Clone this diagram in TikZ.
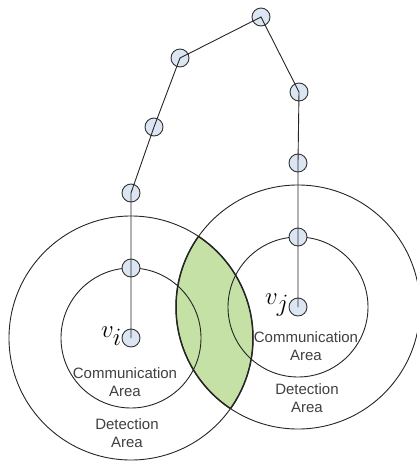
\documentclass[tikz,border=0pt]{standalone}
\usepackage{fontspec}
\setsansfont{Liberation Sans}
\begin{document}
\begin{tikzpicture}[x=1pt,y=-1pt,
  ln/.style={line width=0.9pt,draw=black!85},
  sensor/.style={circle,draw=black!80,line width=0.9pt,fill=lensblue,minimum size=18pt,inner sep=0pt},
  lbl/.style={font=\sffamily\fontsize{15}{17.5}\selectfont,text=black!75,align=center},
  vlbl/.style={font=\fontsize{40}{40}\selectfont,inner sep=0pt}]
\definecolor{lensgreen}{HTML}{C5E1A5}
\definecolor{lensblue}{HTML}{DCE6F2}
\useasboundingbox (0,0) rectangle (417,461);
\coordinate (A) at (131,338);
\coordinate (B) at (298,307);
% green lens
\begin{scope}
  \clip (A) circle (122);
  \fill[lensgreen] (B) circle (122);
\end{scope}
% circles
\draw[ln] (A) circle (122);
\draw[ln] (A) circle (70);
\draw[ln] (B) circle (122);
\draw[ln] (B) circle (70);
% lens border
\begin{scope}
  \clip (A) circle (122);
  \draw[line width=1.5pt,black!85] (B) circle (122);
\end{scope}
\begin{scope}
  \clip (B) circle (122);
  \draw[line width=1.5pt,black!85] (A) circle (122);
\end{scope}
% sensors
\node[sensor] (vi) at (131,338) {};
\node[sensor] (n1) at (131,268) {};
\node[sensor] (n2) at (131,193) {};
\node[sensor] (n3) at (154,127) {};
\node[sensor] (n4) at (180,58) {};
\node[sensor] (n5) at (261,17) {};
\node[sensor] (n6) at (299,92) {};
\node[sensor] (n7) at (298,163) {};
\node[sensor] (n8) at (298,237) {};
\node[sensor] (vj) at (298,307) {};
\draw[ln] (vi.center) -- (n1.center) -- (n2.center) -- (n3.center) -- (n4.center) -- (n5.center) -- (n6.center) -- (n7.center) -- (n8.center) -- (vj.center);
% labels
\node[vlbl,anchor=east] (li) at (122,336) {$v_i$};
\node[vlbl,anchor=east] (lj) at (289,305) {$v_j$};
\node[lbl] (ci) at (125,382) {Communication\\Area};
\node[lbl] (di) at (127,433) {Detection\\Area};
\node[lbl] (cj) at (306,346) {Communication\\Area};
\node[lbl] (dj) at (307,398) {Detection\\Area};
\end{tikzpicture}
\end{document}
